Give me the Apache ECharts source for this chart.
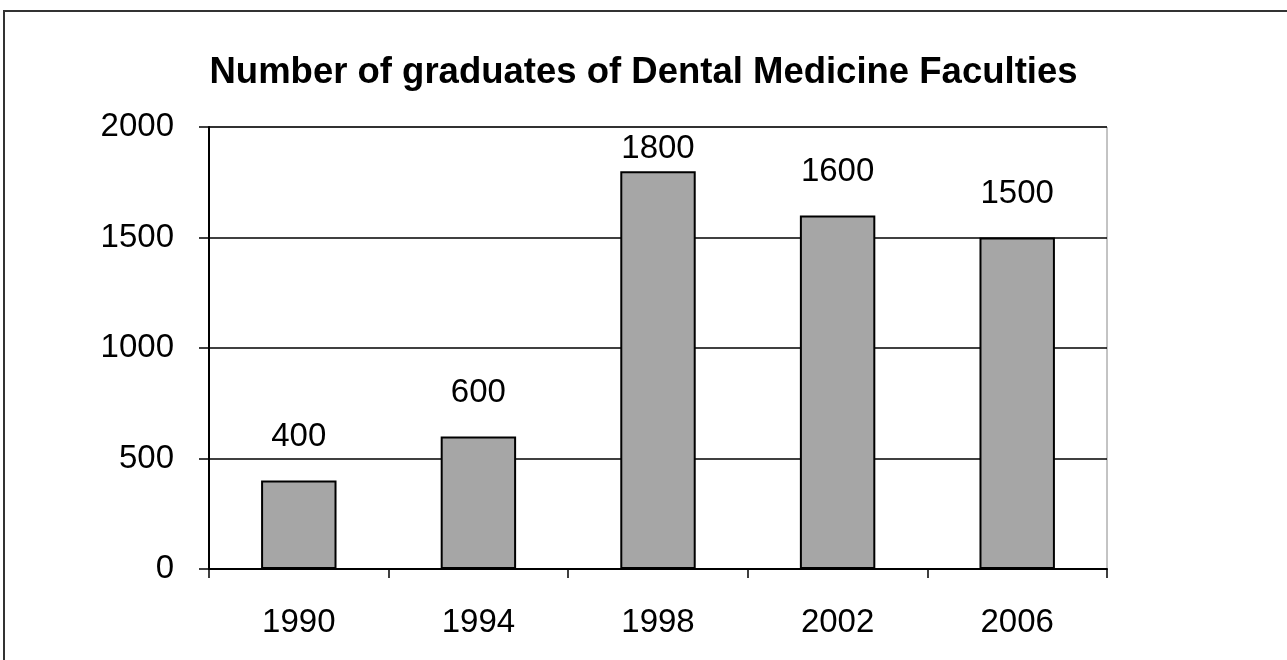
<!DOCTYPE html>
<html>
<head>
<meta charset="utf-8">
<title>Number of graduates of Dental Medicine Faculties</title>
<script src="https://cdn.jsdelivr.net/npm/echarts@6/dist/echarts.min.js"></script>
<style>
    html, body { margin: 0; padding: 0; background: #fff; overflow: hidden; }
    #chart { width: 1287px; height: 660px; }
</style>
</head>
<body>
<div id="chart"></div>
<script>
// Chart data
var years = ['1990', '1994', '1998', '2002', '2006'];
var graduates = [400, 600, 1800, 1600, 1500];
var yTicks = [0, 500, 1000, 1500, 2000];

var FONT = '"Liberation Sans", Arial, sans-serif';

var chart = echarts.init(document.getElementById('chart'));

var option = {
    animation: false,
    backgroundColor: '#fff',
    title: {
        text: 'Number of graduates of Dental Medicine Faculties',
        left: 'center',
        top: 49,
        textStyle: {
            fontFamily: FONT,
            fontSize: 36.5,
            fontWeight: 'bold',
            color: '#000'
        }
    },
    // outer frame, only top/left edges fall inside the picture
    graphic: [{
        type: 'rect',
        shape: { x: 4, y: 11, width: 1400, height: 800 },
        style: { fill: 'none', stroke: '#333', lineWidth: 2 },
        silent: true
    }],
    grid: {
        left: 209,
        right: 180,
        top: 127,
        bottom: 91,
        show: true,
        borderColor: '#888',
        borderWidth: 1
    },
    xAxis: {
        type: 'category',
        data: years,
        axisLine: { lineStyle: { color: '#000', width: 2 } },
        axisTick: { show: true, length: 9, lineStyle: { color: '#000', width: 1.5 } },
        axisLabel: {
            margin: 37,
            fontFamily: FONT,
            fontSize: 33,
            color: '#000'
        },
        splitLine: { show: false }
    },
    yAxis: {
        type: 'value',
        min: yTicks[0],
        max: yTicks[yTicks.length - 1],
        interval: yTicks[1] - yTicks[0],
        axisLine: { show: true, lineStyle: { color: '#000', width: 2 } },
        axisTick: { show: true, length: 10, lineStyle: { color: '#000', width: 1.5 } },
        axisLabel: {
            margin: 35,
            fontFamily: FONT,
            fontSize: 33,
            color: '#000',
            formatter: function(v) { return String(v); }
        },
        splitLine: { show: true, lineStyle: { color: '#000', width: 1.5 } }
    },
    series: [{
        type: 'bar',
        barWidth: '42%',
        itemStyle: {
            color: '#a6a6a6',
            borderColor: '#000',
            borderWidth: 2
        },
        label: {
            show: true,
            position: 'top',
            distance: 27,
            fontFamily: FONT,
            fontSize: 33,
            color: '#000'
        },
        data: graduates.map(function(v) {
            // labels near the top of the plot sit closer to the bar
            if (v > 1700) {
                return { value: v, label: { distance: 6 } };
            }
            return v;
        })
    }]
};

chart.setOption(option);
</script>
</body>
</html>
